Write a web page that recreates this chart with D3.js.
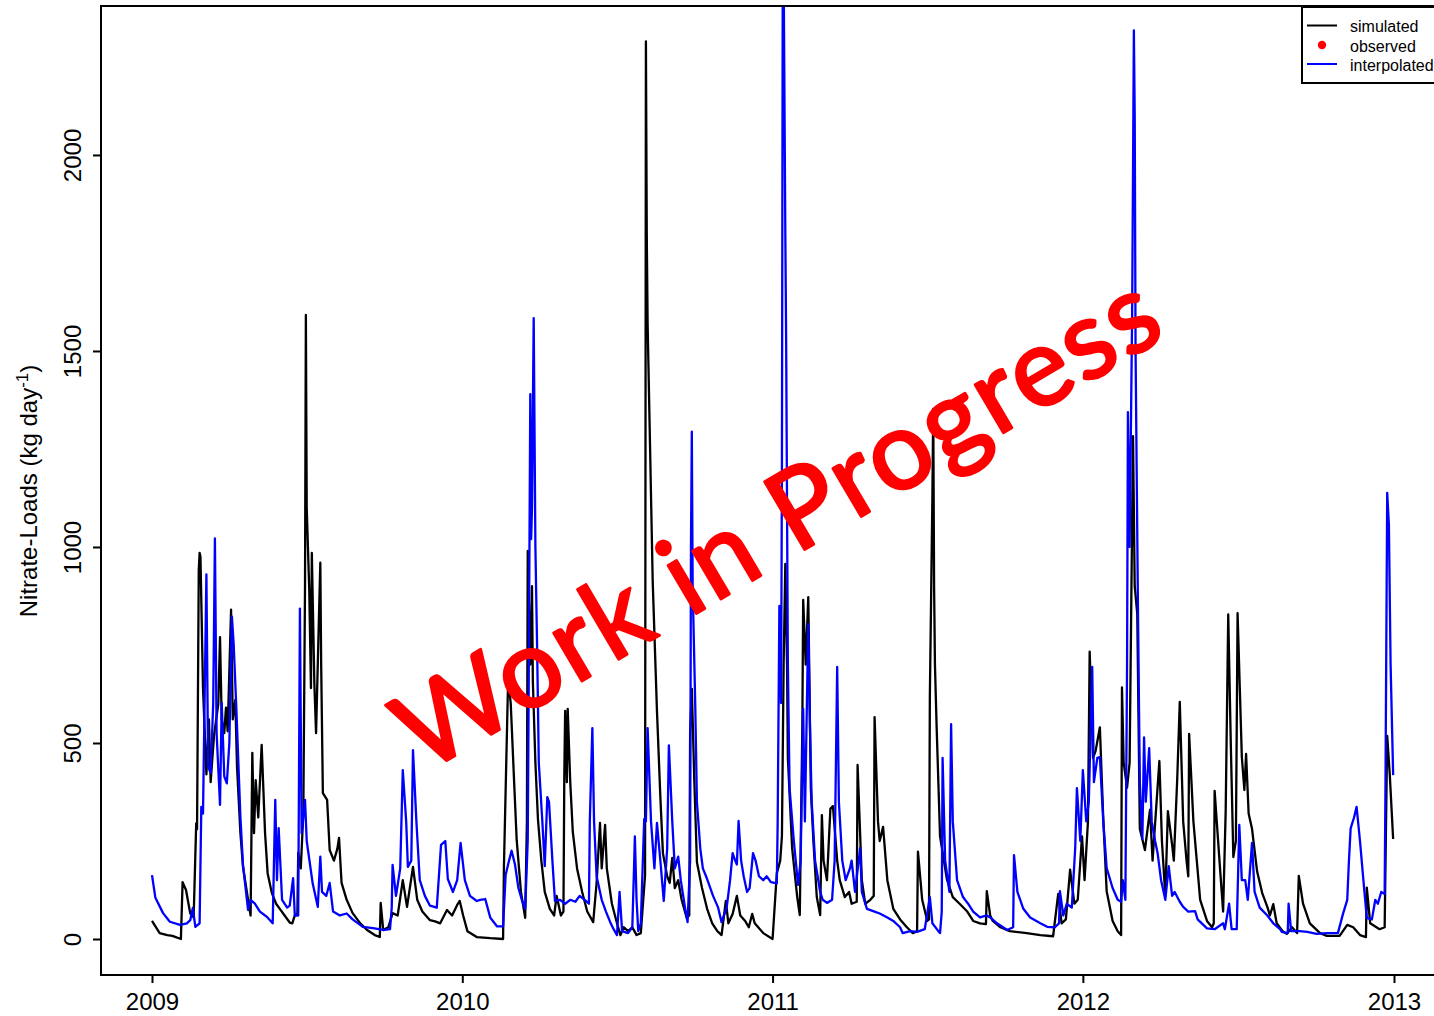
<!DOCTYPE html>
<html>
<head>
<meta charset="utf-8">
<script src="https://cdn.jsdelivr.net/npm/d3@7"></script>
<style>
  html, body { margin: 0; padding: 0; background: #ffffff; }
  svg { display: block; }
</style>
</head>
<body>
<svg id="chart" width="1434" height="1016"></svg>
<script>
// Daily nitrate loads, 2009-2012. Each pair: [day since 2009-01-01, load in kg/day]
const simulated = [
  [0,46],[9,15],[18,10],[24,8],[34,0],[36,145],[40,125],[45,65],[49,55],[52,295],[53,280],[55,940],[56,985],[57,975],
  [60,640],[64,420],[67,560],[69,400],[73,520],[78,600],[80,770],[82,560],[85,525],[87,590],[89,530],[93,840],[95,560],
  [98,610],[100,440],[104,270],[107,185],[113,100],[116,60],[118,475],[120,270],[122,405],[125,310],[129,495],[133,270],
  [136,168],[141,117],[146,90],[151,75],[156,60],[162,42],[165,40],[168,60],[171,65],[172,220],[175,180],[178,320],
  [180,900],[181,1592],[182,1100],[185,890],[187,640],[188,985],[191,650],[193,525],[195,700],[198,960],[199,700],
  [201,372],[206,355],[209,227],[214,200],[218,230],[220,258],[223,143],[229,100],[236,66],[245,40],[253,23],[262,10],
  [268,5],[269,92],[272,23],[278,30],[283,66],[289,60],[295,150],[300,82],[307,184],[312,100],[318,70],[327,48],[333,45],
  [339,40],[347,74],[353,60],[359,87],[362,97],[366,60],[371,20],[382,5],[398,2],[413,0],[414,186],[419,670],[422,600],
  [426,400],[429,252],[434,120],[439,54],[441,300],[442,990],[445,700],[447,900],[448,658],[451,450],[454,306],[458,200],
  [462,120],[468,77],[473,60],[476,110],[481,60],[484,70],[485,416],[486,582],[488,400],[489,587],[492,400],[495,273],
  [500,180],[506,120],[512,70],[519,43],[523,143],[527,296],[529,180],[533,291],[535,180],[541,90],[547,40],[551,10],
  [555,30],[560,20],[565,30],[570,10],[575,15],[580,163],[581,2290],[582,1800],[583,1571],[586,1242],[589,911],[594,582],
  [598,362],[601,219],[606,160],[609,143],[612,207],[615,130],[619,150],[623,100],[629,54],[632,60],[633,527],[635,638],
  [638,400],[641,196],[647,130],[653,77],[659,40],[665,20],[670,10],[675,97],[678,40],[683,64],[688,110],[692,60],[698,45],
  [702,30],[706,64],[709,40],[719,15],[730,0],[735,168],[739,200],[741,262],[743,700],[745,957],[747,700],[748,462],
  [753,232],[759,107],[762,61],[765,540],[766,865],[769,700],[772,872],[775,385],[778,250],[782,107],[786,61],[788,316],
  [790,200],[794,150],[798,332],[801,339],[806,200],[809,150],[815,107],[820,120],[823,90],[829,95],[830,444],[835,150],
  [839,90],[845,100],[849,110],[850,566],[854,300],[856,250],[860,286],[865,150],[872,77],[880,50],[888,30],[895,15],
  [900,20],[901,223],[906,100],[912,46],[914,50],[915,617],[918,1128],[919,1352],[920,900],[921,700],[923,540],[927,262],
  [935,153],[942,107],[950,90],[959,70],[966,46],[974,40],[981,38],[982,122],[986,60],[989,46],[998,30],[1009,20],
  [1029,15],[1045,10],[1060,7],[1066,115],[1070,40],[1075,50],[1080,177],[1085,90],[1089,100],[1094,262],[1097,150],
  [1101,300],[1103,733],[1107,462],[1110,480],[1115,540],[1119,308],[1123,122],[1130,46],[1136,20],[1140,10],[1141,642],
  [1143,450],[1147,386],[1150,450],[1154,1283],[1156,900],[1159,829],[1162,281],[1168,227],[1174,330],[1177,200],
  [1185,454],[1188,250],[1192,110],[1195,326],[1200,240],[1202,200],[1206,408],[1209,605],[1213,300],[1217,199],
  [1219,160],[1220,523],[1225,301],[1229,200],[1233,100],[1241,46],[1247,30],[1249,40],[1250,378],[1256,191],[1260,70],
  [1263,326],[1266,828],[1269,500],[1272,209],[1275,250],[1277,831],[1282,464],[1285,380],[1287,472],[1290,320],
  [1294,281],[1300,172],[1306,117],[1312,82],[1315,60],[1319,89],[1323,40],[1330,20],[1335,13],[1341,30],[1347,15],
  [1349,161],[1354,90],[1362,40],[1374,15],[1382,8],[1397,8],[1406,36],[1413,30],[1421,10],[1428,5],[1429,131],[1433,40],
  [1444,25],[1450,30],[1453,518],[1456,420],[1460,255]
];

const interpolated = [
  [0,163],[4,105],[13,66],[21,44],[33,36],[41,40],[45,48],[48,79],[51,31],[56,40],[58,337],[60,320],[64,930],[66,440],
  [69,423],[72,600],[74,1022],[76,525],[80,342],[82,602],[85,415],[88,397],[91,500],[94,822],[96,755],[99,600],[104,311],
  [107,190],[113,74],[116,100],[121,90],[127,70],[133,60],[135,57],[142,40],[145,355],[147,150],[149,283],[153,100],
  [159,80],[162,85],[166,155],[168,60],[172,60],[174,843],[176,270],[180,355],[182,250],[189,142],[195,82],[198,210],
  [200,120],[205,110],[209,143],[213,70],[221,60],[229,65],[236,50],[248,31],[260,28],[272,23],[280,25],[282,80],
  [283,189],[287,110],[292,180],[295,431],[299,300],[301,184],[305,200],[307,482],[311,300],[315,150],[321,110],[327,85],
  [335,80],[340,240],[345,250],[348,153],[354,120],[359,150],[363,245],[368,150],[374,110],[382,97],[386,100],[392,102],
  [398,54],[406,32],[413,32],[416,163],[420,200],[423,225],[427,190],[431,130],[435,100],[439,77],[442,252],[443,600],
  [445,1390],[446,1020],[447,1100],[449,1584],[451,1000],[453,747],[455,450],[459,306],[462,186],[465,362],[467,350],
  [471,200],[474,97],[480,100],[486,90],[492,100],[498,95],[503,110],[509,100],[514,90],[515,300],[518,538],[520,300],
  [523,160],[529,100],[534,70],[539,43],[543,25],[547,10],[550,120],[553,20],[560,15],[565,30],[567,180],[568,262],
  [570,100],[572,20],[575,40],[579,306],[581,300],[583,538],[587,300],[591,180],[594,296],[598,200],[602,97],[606,230],
  [608,494],[612,300],[615,180],[619,210],[622,150],[627,80],[630,43],[633,200],[634,1000],[635,1294],[636,900],[639,600],
  [641,350],[645,230],[648,180],[653,153],[660,110],[666,80],[670,43],[676,80],[680,150],[683,219],[686,200],[688,190],
  [690,301],[693,200],[696,160],[700,120],[703,130],[707,219],[710,200],[714,160],[719,150],[723,160],[728,145],[735,142],
  [736,300],[738,850],[740,602],[741,1200],[742,2500],[743,2480],[745,1800],[746,1515],[748,700],[750,385],[755,250],
  [760,138],[763,200],[766,587],[768,300],[772,803],[774,540],[776,350],[780,200],[786,120],[789,100],[794,92],[800,100],
  [803,200],[806,694],[808,350],[812,200],[816,150],[821,180],[823,200],[827,120],[833,232],[835,120],[841,77],[850,70],
  [856,65],[865,55],[872,46],[880,30],[883,15],[892,20],[900,18],[909,25],[913,80],[915,107],[918,40],[925,20],[927,15],
  [929,70],[930,462],[933,200],[938,120],[940,548],[942,300],[947,150],[954,107],[960,90],[966,70],[974,55],[982,60],
  [986,55],[994,40],[1006,23],[1013,30],[1014,214],[1018,120],[1025,77],[1033,55],[1045,40],[1053,31],[1062,30],[1067,40],
  [1068,122],[1072,60],[1076,90],[1082,80],[1086,232],[1088,385],[1092,250],[1095,431],[1099,300],[1102,350],[1106,694],
  [1108,400],[1112,462],[1115,464],[1119,300],[1123,181],[1130,130],[1136,100],[1140,95],[1142,150],[1145,100],[1147,700],
  [1148,1344],[1150,1000],[1153,1600],[1155,2318],[1156,2100],[1157,1500],[1160,800],[1162,400],[1165,255],[1167,514],
  [1169,350],[1173,487],[1176,300],[1180,250],[1183,218],[1187,150],[1192,100],[1196,186],[1200,110],[1203,120],[1209,95],
  [1213,82],[1219,70],[1227,71],[1230,50],[1241,27],[1250,25],[1260,40],[1262,25],[1267,90],[1270,25],[1276,25],
  [1279,291],[1282,150],[1286,150],[1289,100],[1294,245],[1297,120],[1303,80],[1312,60],[1319,40],[1327,25],[1329,18],
  [1336,15],[1337,90],[1340,20],[1350,20],[1359,18],[1370,13],[1382,15],[1395,15],[1401,64],[1406,100],[1408,200],
  [1410,282],[1414,310],[1417,337],[1421,250],[1425,150],[1429,54],[1435,50],[1439,100],[1442,90],[1446,120],[1450,115],
  [1451,400],[1453,1138],[1455,1056],[1457,700],[1460,418]
];

// Axis ticks and legend entries
const yearTicks = [2009, 2010, 2011, 2012, 2013];
const loadTicks = [0, 500, 1000, 1500, 2000];
const legendLabels = ["simulated", "observed", "interpolated"];
const legendColors = ["#000000", "#ff0000", "#0000ff"];
const yLabel = "Nitrate-Loads (kg day";
const watermark = "Work in Progress";

const svg = d3.select("#chart");
const W = 1434, H = 1016;
const frame = { left: 101, top: 6, bottom: 975, right: 1442 };
const origin = Date.UTC(2009, 0, 1);
const toDate = d => new Date(origin + d * 86400000);
const axisFont = "'Liberation Sans', Arial, sans-serif";

const x = d3.scaleUtc()
  .domain([new Date(Date.UTC(2009, 0, 1)), new Date(Date.UTC(2013, 0, 1))])
  .range([152, 1394]);
const y = d3.scaleLinear().domain([0, 2380]).range([939, 6]);

svg.append("rect").attr("width", W).attr("height", H).attr("fill", "#ffffff");

svg.append("defs").append("clipPath").attr("id", "plot-clip")
  .append("rect")
  .attr("x", frame.left).attr("y", frame.top)
  .attr("width", frame.right - frame.left).attr("height", frame.bottom - frame.top);

const line = d3.line()
  .x(d => x(toDate(d[0])))
  .y(d => y(d[1]));

// Simulated first, interpolated drawn over it
const series = svg.append("g").attr("clip-path", "url(#plot-clip)");
series.append("path").datum(simulated)
  .attr("d", line).attr("fill", "none")
  .attr("stroke", legendColors[0]).attr("stroke-width", 2.3).attr("stroke-linejoin", "round");
series.append("path").datum(interpolated)
  .attr("d", line).attr("fill", "none")
  .attr("stroke", legendColors[2]).attr("stroke-width", 2.3).attr("stroke-linejoin", "round");

// Plot box
svg.append("rect")
  .attr("x", frame.left).attr("y", frame.top)
  .attr("width", frame.right - frame.left).attr("height", frame.bottom - frame.top)
  .attr("fill", "none").attr("stroke", "#000").attr("stroke-width", 2);

// X axis
const xAxis = d3.axisBottom(x)
  .tickValues(yearTicks.map(yr => new Date(Date.UTC(yr, 0, 1))))
  .tickFormat(d3.utcFormat("%Y"))
  .tickSize(8).tickPadding(10);
const gx = svg.append("g").attr("transform", `translate(0,${frame.bottom})`).call(xAxis);
gx.select(".domain").remove();
gx.selectAll(".tick line").attr("stroke", "#000").attr("stroke-width", 2);
gx.selectAll(".tick text")
  .attr("font-family", axisFont)
  .attr("font-size", 24).attr("fill", "#000");

// Y axis (labels parallel to the axis)
const yAxis = d3.axisLeft(y).tickValues(loadTicks).tickFormat(d3.format("d")).tickSize(8);
const gy = svg.append("g").attr("transform", `translate(${frame.left},0)`).call(yAxis);
gy.select(".domain").remove();
gy.selectAll(".tick line").attr("stroke", "#000").attr("stroke-width", 2);
gy.selectAll(".tick text")
  .attr("x", null).attr("dy", null)
  .attr("transform", "translate(-20,0) rotate(-90)")
  .attr("text-anchor", "middle")
  .attr("font-family", axisFont)
  .attr("font-size", 24).attr("fill", "#000");

// Y axis title with superscript exponent
const yt = svg.append("text")
  .attr("transform", "translate(37,491) rotate(-90)")
  .attr("text-anchor", "middle")
  .attr("font-family", axisFont)
  .attr("font-size", 24).attr("fill", "#000");
yt.append("tspan").text(yLabel);
yt.append("tspan").attr("font-size", 17).attr("dy", -9).text("-1");
yt.append("tspan").attr("dy", 9).text(")");

// Legend
const lg = svg.append("g");
lg.append("rect")
  .attr("x", 1302).attr("y", 7).attr("width", 200).attr("height", 76)
  .attr("fill", "#fff").attr("stroke", "#000").attr("stroke-width", 2);
const rowY = [25.5, 45, 64];
legendLabels.forEach((label, i) => {
  if (i === 1) {
    lg.append("circle").attr("cx", 1322).attr("cy", rowY[i]).attr("r", 4.2).attr("fill", legendColors[i]);
  } else {
    lg.append("line").attr("x1", 1307).attr("x2", 1337).attr("y1", rowY[i]).attr("y2", rowY[i])
      .attr("stroke", legendColors[i]).attr("stroke-width", 2);
  }
  lg.append("text").attr("x", 1350).attr("y", rowY[i] + 6.5)
    .attr("font-family", axisFont)
    .attr("font-size", 16).attr("fill", "#000").text(label);
});

// Watermark across the plot
svg.append("text")
  .attr("transform", "translate(424,774) rotate(-30.5)")
  .attr("font-family", "Lato, 'Open Sans', sans-serif")
  .attr("font-size", 110)
  .attr("fill", "#ff0000")
  .attr("stroke", "#ff0000")
  .attr("stroke-width", 2.8)
  .attr("stroke-linejoin", "round")
  .attr("textLength", 864)
  .attr("lengthAdjust", "spacing")
  .text(watermark);
</script>
</body>
</html>
